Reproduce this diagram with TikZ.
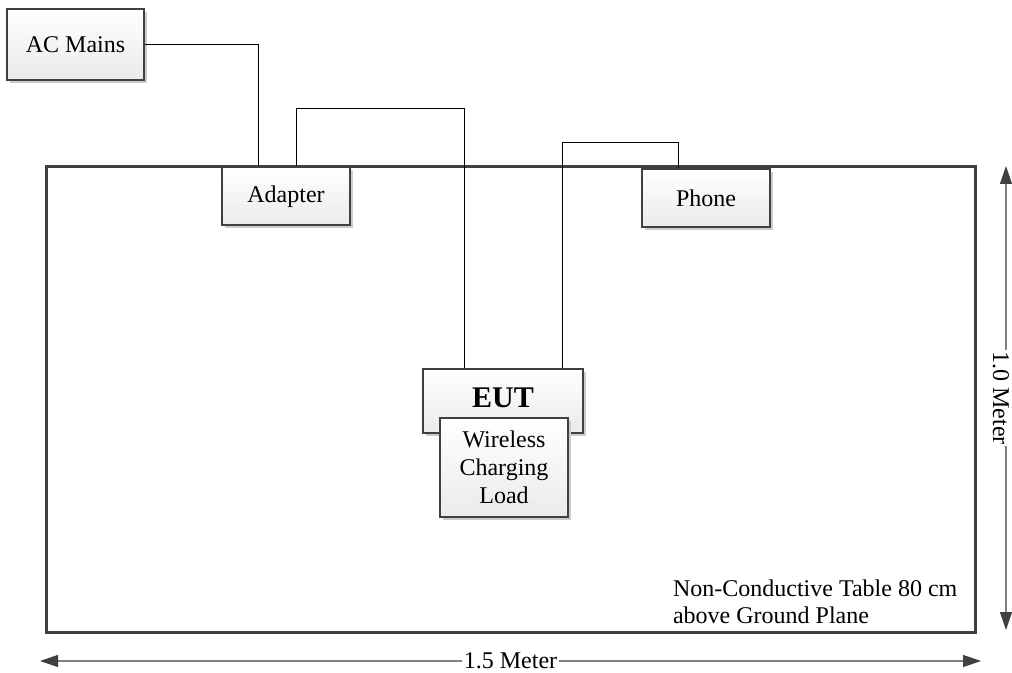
\documentclass[tikz,border=0pt]{standalone}
\usepackage{fontspec}
\setmainfont{LiberationSerif}[Extension=.ttf, UprightFont=*-Regular, BoldFont=*-Bold,
    ItalicFont=*-Italic, BoldItalicFont=*-BoldItalic]
\usetikzlibrary{shadows,arrows.meta}
\definecolor{boxline}{HTML}{404040}
\tikzset{
    unitbox/.style={draw=boxline, line width=1pt, top color=white, bottom color=black!8,
        drop shadow={shadow xshift=1.5pt, shadow yshift=-1.5pt, fill=black!20, opacity=1},
        align=center, font=\fontsize{12}{14}\selectfont, inner sep=0pt},
    wire/.style={draw=black, line width=0.5pt},
    dimline/.style={draw=black!50, line width=0.6pt,
        {Triangle[length=9pt, width=6pt, color=boxline]}-{Triangle[length=9pt, width=6pt, color=boxline]}},
    dimlabel/.style={fill=white, inner sep=1pt, font=\fontsize{12}{14}\selectfont}
}
\begin{document}
\begin{tikzpicture}[x=0.5pt, y=-0.5pt]
    \useasboundingbox (0, 0) rectangle (1012, 673);
    % table
    \draw[boxline, line width=1.5pt] (46, 167) rectangle (975, 632);
    \node[align=left, anchor=west, font=\fontsize{12}{13.5}\selectfont] (tablenote) at (666, 602)
        {Non-Conductive Table 80 cm\\above Ground Plane};
    % boxes
    \node[unitbox, minimum width=68.5pt, minimum height=35.5pt] (acmains) at (75.5, 44.5) {AC Mains};
    \node[unitbox, minimum width=64pt, minimum height=29pt] (adapter) at (286, 196.5) {Adapter};
    \node[unitbox, minimum width=64pt, minimum height=29pt] (phone) at (706, 198) {Phone};
    \node[unitbox, minimum width=80pt, minimum height=32pt, font=\fontsize{15}{17}\selectfont\bfseries,
        text depth=3pt] (eut) at (503, 401) {EUT};
    \node[unitbox, minimum width=64pt, minimum height=49.5pt] (load) at (504, 467.5)
        {Wireless\\Charging\\Load};
    % cables
    \draw[wire] (acmains.east) -| ([xshift=18.5pt]adapter.north west);
    \draw[wire] ([xshift=37.5pt]adapter.north west) -- ++(0, 29pt)
        -| ([xshift=21pt]eut.north west);
    \draw[wire] ([xshift=18.5pt]phone.north west) -- ++(0, 12.5pt)
        -| ([xshift=70pt]eut.north west);
    % dimensions
    \coordinate (widthL) at (40, 661);
    \coordinate (widthR) at (981, 661);
    \coordinate (heightT) at (1006, 166);
    \coordinate (heightB) at (1006, 630);
    \draw[dimline] (widthL) -- (widthR) node[dimlabel, midway] (widthlabel) {1.5 Meter};
    \draw[dimline] (heightT) -- (heightB);
    \node[dimlabel, rotate=-90, inner sep=0.5pt] (heightlabel) at (1001, 398) {1.0 Meter};
\end{tikzpicture}
\end{document}
